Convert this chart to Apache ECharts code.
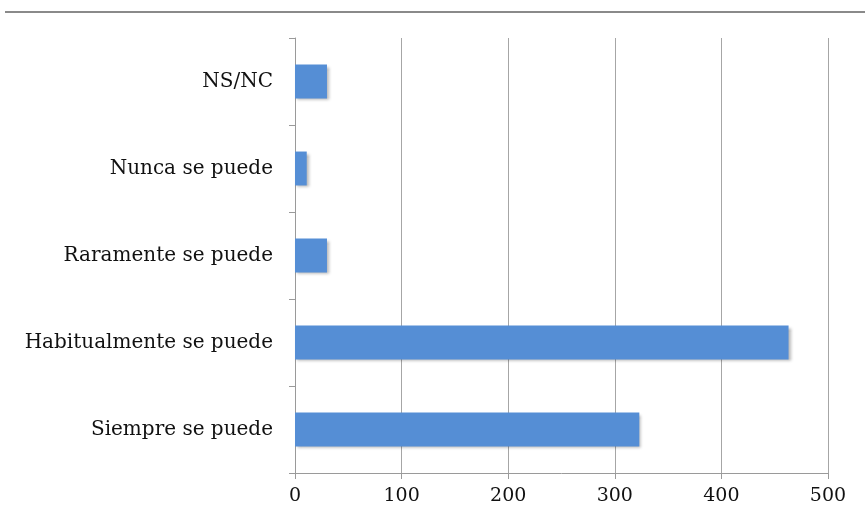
<!DOCTYPE html>
<html>
<head>
<meta charset="utf-8">
<script src="https://cdn.jsdelivr.net/npm/echarts@6/dist/echarts.min.js"></script>
<style>
  html, body { margin: 0; padding: 0; background: #fff; }
  #chart { width: 865px; height: 524px; }
</style>
</head>
<body>
<div id="chart"></div>
<script>
// Response categories, listed bottom to top
const categories = ['Siempre se puede', 'Habitualmente se puede', 'Raramente se puede', 'Nunca se puede', 'NS/NC'];
// Number of answers per category
const counts = [323, 463, 30, 11, 30];
// Value axis range
const axisMin = 0;
const axisMax = 500;
const axisStep = 100;

const font = '"DejaVu Serif", "Liberation Serif", serif';
const chart = echarts.init(document.getElementById('chart'));

chart.setOption({
  animation: false,
  backgroundColor: '#ffffff',
  grid: { left: 295, right: 37, top: 38, bottom: 51, containLabel: false },
  graphic: [{
    type: 'line',
    shape: { x1: 5, y1: 12, x2: 865, y2: 12 },
    style: { stroke: '#8a8a8a', lineWidth: 2 }
  }],
  xAxis: {
    type: 'value',
    min: axisMin,
    max: axisMax,
    interval: axisStep,
    axisLine: { show: true, lineStyle: { color: '#9a9a9a', width: 1 } },
    axisTick: { show: true, length: 6, lineStyle: { color: '#9a9a9a' } },
    splitLine: { show: true, lineStyle: { color: '#a6a6a6', width: 1 } },
    axisLabel: { color: '#111', fontFamily: font, fontSize: 19, margin: 14 }
  },
  yAxis: {
    type: 'category',
    data: categories,
    axisLine: { show: true, lineStyle: { color: '#9a9a9a', width: 1 } },
    axisTick: { show: true, length: 6, lineStyle: { color: '#9a9a9a' } },
    axisLabel: { color: '#111', fontFamily: font, fontSize: 20, margin: 22 }
  },
  series: [{
    type: 'bar',
    data: counts,
    barCategoryGap: '61%',
    itemStyle: {
      color: '#558ed5',
      shadowColor: 'rgba(0,0,0,0.3)',
      shadowBlur: 3,
      shadowOffsetX: 2,
      shadowOffsetY: 2
    }
  }]
});
</script>
</body>
</html>
